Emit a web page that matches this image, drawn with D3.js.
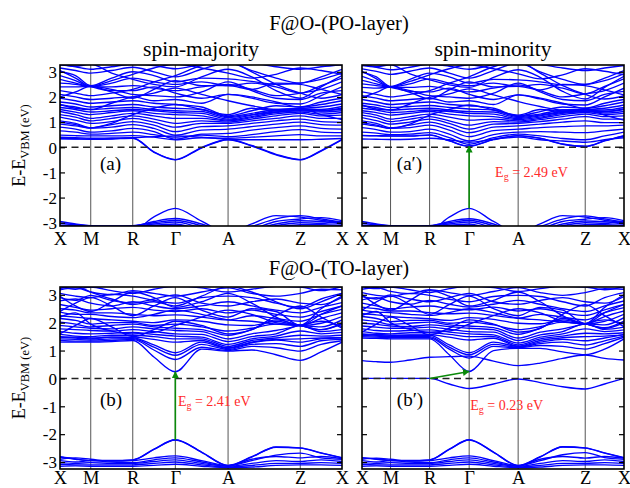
<!DOCTYPE html>
<html><head><meta charset="utf-8">
<script src="https://cdn.jsdelivr.net/npm/d3@7"></script>
<style>
body{margin:0;background:#fff}
svg{display:block}
text{font-family:"Liberation Serif","Times New Roman",serif}
</style>
</head><body>
<svg id="chart" width="630" height="488"></svg>
<script>
// k-path sample positions (fraction of path length)
const kPos = [0, 0.055, 0.109, 0.183, 0.258, 0.333, 0.409, 0.502, 0.596, 0.68, 0.766, 0.852, 0.926, 1];
const kLabels = ["X", "M", "R", "\u0393", "A", "Z", "X"];
const kLabelPos = [0, 0.109, 0.258, 0.409, 0.596, 0.852, 1];
const yTicks = [-3, -2, -1, 0, 1, 2, 3];

// (a) F@O PO-layer, spin-majority
const bandsA = [
 [3.28,3.2,3.1,3.2,3.3,3.25,3.12,3.3,3.4,3.35,3.2,3.1,3.2,3.28],
 [3.15,3.05,2.95,3.05,3.18,3.0,2.8,3.1,3.35,3.05,2.75,2.55,2.8,3.1],
 [3.0,2.85,2.45,2.75,3.0,2.85,2.6,2.75,2.72,2.62,2.5,2.55,2.7,2.95],
 [2.85,2.65,2.42,2.55,2.75,2.6,2.5,2.6,2.45,2.55,2.4,2.15,2.45,2.75],
 [2.7,2.55,2.42,2.4,2.45,2.35,2.25,2.4,2.5,2.3,2.05,2.15,2.3,2.6],
 [2.55,2.5,2.4,2.25,2.25,2.4,2.15,1.95,2.1,1.95,1.75,1.72,2.05,2.4],
 [2.4,2.4,2.42,2.3,2.1,2.05,2.0,2.2,2.6,2.25,1.95,1.9,2.15,2.25],
 [2.25,2.15,2.05,2.15,2.3,2.6,2.85,3.25,3.4,3.0,2.5,2.15,1.95,2.1],
 [2.1,2.0,1.9,1.95,2.0,1.85,1.9,1.75,2.1,2.0,1.8,1.6,1.8,1.95],
 [1.95,1.85,1.75,1.8,1.85,1.75,1.7,1.6,1.25,1.45,1.65,1.6,1.7,1.85],
 [1.8,1.72,1.6,1.65,1.7,1.6,1.55,1.5,1.22,1.35,1.5,1.55,1.6,1.72],
 [1.68,1.6,1.5,1.55,1.58,1.5,1.45,1.42,1.18,1.3,1.45,1.52,1.5,1.62],
 [1.58,1.5,1.4,1.45,1.5,1.45,1.38,1.35,1.12,1.28,1.4,1.48,1.45,1.52],
 [1.5,1.4,1.3,1.38,1.45,1.35,1.3,1.25,1.08,1.22,1.38,1.45,1.4,1.45],
 [1.42,1.3,1.15,1.25,1.35,1.25,1.15,1.15,1.05,1.18,1.33,1.4,1.32,1.38],
 [1.3,1.2,1.05,1.15,1.25,1.12,0.95,1.05,1.0,1.12,1.25,1.35,1.25,1.28],
 [1.2,1.08,0.95,1.02,1.15,1.0,0.8,0.95,0.95,1.05,1.15,1.25,1.15,1.15],
 [1.05,0.95,0.78,0.9,1.02,0.88,0.62,0.82,0.85,0.95,1.05,1.12,1.02,1.0],
 [0.92,0.85,0.76,0.8,0.9,0.75,0.48,0.68,0.72,0.82,0.92,1.0,0.9,0.88],
 [0.8,0.72,0.6,0.65,0.75,0.62,0.32,0.52,0.55,0.68,0.78,0.85,0.75,0.72],
 [0.65,0.6,0.52,0.55,0.6,0.5,0.4,0.48,0.42,0.5,0.62,0.7,0.6,0.58],
 [0.48,0.46,0.45,0.45,0.46,0.4,0.3,0.38,0.36,0.4,0.45,0.5,0.45,0.45],
 [0.4,0.38,0.36,0.37,0.38,0.42,0.45,0.4,0.32,0.3,0.3,0.3,0.32,0.35],
 [2.0,2.2,2.42,2.2,1.95,2.3,2.65,2.45,2.45,2.3,2.55,2.5,2.3,2.1],
 [1.0,0.9,0.77,0.95,1.3,1.55,1.7,1.5,1.3,1.55,1.45,1.52,1.3,1.1],
 [3.05,2.75,2.42,2.65,2.9,3.15,3.3,3.15,2.95,2.75,2.9,3.15,3.05,2.9],
 [1.7,1.55,1.5,1.75,2.0,2.15,2.35,2.1,1.85,1.65,1.5,1.52,1.45,1.55],
 [3.3,3.22,3.3,2.95,2.7,2.5,2.4,2.8,3.1,2.8,2.25,1.95,2.4,2.85],
 [0.34,0.33,0.32,0.33,0.36,-0.2,-0.5,-0.03,0.3,0.05,-0.3,-0.5,-0.15,0.3],
 [0.35,0.34,0.33,0.34,0.37,-0.18,-0.49,-0.01,0.31,0.07,-0.28,-0.49,-0.13,0.31],
 [-3.3,-3.3,-3.3,-3.3,-3.3,-2.77,-2.43,-2.94,-3.4,-3.05,-2.72,-2.78,-2.9,-3.0],
 [-3.3,-3.3,-3.3,-3.25,-3.15,-2.95,-2.83,-3.05,-3.4,-3.15,-2.85,-2.72,-2.85,-2.98],
 [-3.3,-3.3,-3.28,-3.2,-3.12,-3.0,-2.9,-3.12,-3.4,-3.25,-2.95,-2.85,-2.8,-2.92],
 [-2.95,-3.05,-3.12,-3.13,-3.12,-3.05,-2.97,-3.2,-3.4,-3.3,-3.05,-2.92,-2.95,-3.05],
 [-3.02,-3.08,-3.12,-3.14,-3.13,-3.1,-3.05,-3.3,-3.4,-3.35,-3.12,-3.0,-3.02,-2.95],
 [-3.1,-3.12,-3.14,-3.15,-3.15,-3.12,-3.1,-3.3,-3.4,-3.4,-3.2,-3.08,-3.08,-3.1]
];

// (a') F@O PO-layer, spin-minority
const bandsAp = [
 [3.25,3.18,3.08,3.18,3.3,3.22,3.1,3.28,3.4,3.3,3.15,3.05,3.15,3.25],
 [3.12,3.02,2.9,3.02,3.15,2.95,2.75,3.05,3.35,3.0,2.7,2.5,2.75,3.05],
 [2.98,2.8,2.42,2.7,2.95,2.8,2.55,2.7,2.68,2.6,2.48,2.5,2.65,2.92],
 [2.82,2.62,2.4,2.52,2.72,2.55,2.45,2.55,2.42,2.5,2.35,2.12,2.42,2.72],
 [2.66,2.52,2.4,2.38,2.42,2.3,2.2,2.35,2.48,2.25,2.0,2.12,2.25,2.55],
 [2.52,2.45,2.38,2.22,2.2,2.35,2.1,1.9,2.08,1.92,1.72,1.68,2.0,2.35],
 [2.38,2.35,2.4,2.25,2.05,2.0,1.95,2.15,2.55,2.2,1.9,1.85,2.1,2.22],
 [2.2,2.1,2.0,2.1,2.25,2.55,2.8,3.2,3.4,2.95,2.45,2.1,1.92,2.05],
 [2.05,1.95,1.85,1.9,1.95,1.8,1.85,1.7,2.08,1.95,1.75,1.55,1.75,1.9],
 [1.9,1.8,1.7,1.75,1.8,1.7,1.65,1.55,1.25,1.42,1.6,1.55,1.65,1.8],
 [1.75,1.68,1.58,1.62,1.66,1.58,1.52,1.48,1.22,1.32,1.48,1.5,1.55,1.68],
 [1.65,1.58,1.48,1.52,1.55,1.48,1.42,1.4,1.18,1.28,1.42,1.48,1.48,1.58],
 [1.55,1.48,1.38,1.42,1.48,1.42,1.35,1.32,1.14,1.25,1.38,1.44,1.42,1.5],
 [1.45,1.38,1.28,1.35,1.42,1.32,1.25,1.22,1.1,1.2,1.35,1.42,1.36,1.42],
 [1.38,1.28,1.12,1.22,1.32,1.2,1.08,1.12,1.05,1.15,1.3,1.38,1.3,1.35],
 [1.28,1.18,1.02,1.12,1.22,1.05,0.88,1.02,1.0,1.1,1.22,1.32,1.22,1.25],
 [1.18,1.06,0.92,1.0,1.12,0.95,0.72,0.92,0.95,1.02,1.12,1.22,1.12,1.12],
 [1.05,0.95,0.78,0.88,1.0,0.82,0.58,0.8,0.85,0.92,1.0,1.05,0.98,0.98],
 [0.92,0.84,0.75,0.78,0.88,0.68,0.42,0.66,0.72,0.78,0.82,0.85,0.85,0.88],
 [0.78,0.7,0.6,0.62,0.72,0.52,0.25,0.5,0.6,0.62,0.6,0.58,0.65,0.72],
 [0.6,0.56,0.5,0.52,0.58,0.38,0.12,0.38,0.52,0.45,0.35,0.3,0.45,0.6],
 [0.46,0.45,0.44,0.44,0.48,0.25,0.04,0.3,0.45,0.35,0.12,0.03,0.25,0.45],
 [0.47,0.46,0.45,0.45,0.49,0.26,0.05,0.31,0.46,0.36,0.13,0.04,0.26,0.46],
 [0.33,0.32,0.31,0.32,0.36,0.3,0.2,0.32,0.4,0.3,0.25,0.2,0.3,0.38],
 [1.98,2.18,2.4,2.18,1.92,2.28,2.6,2.4,2.42,2.28,2.5,2.45,2.28,2.08],
 [0.98,0.88,0.75,0.92,1.28,1.5,1.68,1.48,1.28,1.5,1.42,1.5,1.28,1.08],
 [3.02,2.72,2.4,2.62,2.88,3.12,3.28,3.12,2.92,2.72,2.88,3.12,3.02,2.88],
 [1.68,1.52,1.48,1.72,1.98,2.12,2.32,2.08,1.82,1.62,1.48,1.5,1.42,1.52],
 [3.3,3.2,3.28,2.92,2.68,2.48,2.38,2.78,3.08,2.78,2.22,1.92,2.38,2.82],
 [-3.3,-3.3,-3.3,-3.3,-3.3,-2.78,-2.43,-2.95,-3.4,-3.05,-2.72,-2.78,-2.9,-3.0],
 [-3.3,-3.3,-3.3,-3.25,-3.15,-2.95,-2.84,-3.05,-3.4,-3.15,-2.86,-2.73,-2.85,-2.97],
 [-3.3,-3.3,-3.28,-3.2,-3.12,-3.0,-2.9,-3.12,-3.4,-3.25,-2.95,-2.86,-2.8,-2.92],
 [-2.95,-3.05,-3.12,-3.13,-3.12,-3.05,-2.97,-3.2,-3.4,-3.3,-3.05,-2.93,-2.96,-3.05],
 [-3.02,-3.08,-3.12,-3.14,-3.13,-3.1,-3.05,-3.3,-3.4,-3.35,-3.12,-3.0,-3.02,-2.95],
 [-3.1,-3.12,-3.14,-3.15,-3.15,-3.12,-3.1,-3.3,-3.4,-3.4,-3.2,-3.08,-3.08,-3.1]
];

// (b) F@O TO-layer, spin-majority
const bandsB = [
 [3.3,3.2,3.28,3.15,3.05,3.2,3.3,3.25,3.1,3.2,3.3,3.28,3.15,3.3],
 [3.18,3.25,3.1,3.0,3.15,3.05,2.95,3.1,3.25,3.05,2.95,3.05,3.2,3.18],
 [3.05,2.95,2.9,3.02,2.95,2.8,2.7,2.9,2.95,2.9,2.7,2.55,2.85,3.05],
 [2.9,2.8,2.98,2.8,2.7,2.85,3.0,2.7,2.6,2.75,2.85,2.7,2.65,2.9],
 [2.78,2.85,2.7,2.6,2.75,2.6,2.5,2.6,2.75,2.6,2.45,2.35,2.55,2.72],
 [2.65,2.55,2.45,2.5,2.55,2.45,2.4,2.5,2.35,2.45,2.3,2.2,2.4,2.6],
 [2.5,2.45,2.35,2.35,2.3,2.25,2.28,2.2,2.1,2.25,2.15,2.05,2.3,2.48],
 [2.38,2.3,2.3,2.22,2.18,2.3,2.45,2.3,2.1,2.05,1.95,1.9,2.15,2.35],
 [2.25,2.2,2.15,2.1,2.05,2.0,2.1,2.05,1.92,1.9,2.05,1.9,1.98,2.22],
 [2.15,2.08,1.95,2.0,2.0,1.9,1.95,1.85,1.7,1.8,1.95,1.9,1.85,2.1],
 [2.02,1.95,1.85,1.9,1.95,1.85,1.8,1.75,1.55,1.75,2.1,1.9,1.75,1.98],
 [1.9,1.85,1.8,1.78,1.85,1.78,1.72,1.68,1.42,1.6,1.72,1.9,2.05,1.86],
 [1.78,1.75,1.72,1.7,1.75,1.68,1.6,1.58,1.32,1.5,1.6,1.9,1.68,1.75],
 [1.68,1.62,1.6,1.62,1.65,1.58,1.52,1.48,1.22,1.42,1.52,1.7,1.6,1.65],
 [1.58,1.52,1.5,1.55,1.55,1.5,1.42,1.42,1.15,1.36,1.45,1.55,1.52,1.55],
 [1.48,1.45,1.42,1.48,1.48,1.4,1.3,1.36,1.1,1.3,1.4,1.42,1.45,1.46],
 [2.4,2.7,2.9,2.6,2.25,2.6,2.9,2.45,2.2,2.5,2.4,1.9,2.3,2.6],
 [1.6,1.9,2.15,1.85,1.5,1.75,2.05,1.9,1.6,1.75,2.25,2.6,2.2,1.8],
 [2.95,2.6,2.4,2.75,3.1,2.9,2.55,2.75,3.05,2.7,2.2,1.9,2.5,2.95],
 [2.2,2.35,1.95,1.7,1.6,1.65,1.9,2.2,2.45,2.3,2.0,1.9,1.75,1.95],
 [3.22,3.3,3.1,2.85,2.65,2.75,2.6,2.95,3.3,3.1,2.75,2.5,2.75,3.05],
 [1.5,1.48,1.45,1.48,1.46,1.2,0.92,1.3,1.08,1.28,1.38,1.3,1.42,1.46],
 [1.42,1.4,1.38,1.42,1.43,1.12,0.83,1.22,1.04,1.22,1.25,1.15,1.35,1.4],
 [1.36,1.34,1.34,1.36,1.4,1.02,0.68,1.12,1.0,1.15,1.1,0.98,1.22,1.35],
 [1.3,1.3,1.3,1.32,1.36,0.77,0.24,1.05,0.98,1.02,0.85,0.65,0.95,1.3],
 [-2.82,-2.9,-2.95,-2.95,-2.93,-2.55,-2.21,-2.65,-3.13,-2.82,-2.47,-2.5,-2.68,-2.85],
 [-2.81,-2.89,-2.94,-2.94,-2.92,-2.54,-2.2,-2.64,-3.12,-2.81,-2.46,-2.49,-2.67,-2.84],
 [-2.9,-2.85,-2.9,-2.97,-2.95,-2.85,-2.78,-2.95,-3.13,-2.95,-2.75,-2.68,-2.85,-2.9],
 [-2.95,-3.0,-2.95,-3.0,-3.02,-2.92,-2.85,-3.0,-3.14,-2.9,-2.8,-2.85,-2.8,-2.88],
 [-3.02,-3.05,-3.02,-3.05,-3.05,-2.98,-2.92,-3.05,-3.15,-3.05,-2.95,-2.98,-2.92,-2.98],
 [-3.08,-3.1,-3.1,-3.1,-3.1,-3.05,-3.0,-3.1,-3.18,-3.12,-3.05,-3.05,-3.02,-3.05],
 [-3.15,-3.14,-3.15,-3.15,-3.15,-3.12,-3.08,-3.15,-3.2,-3.18,-3.12,-3.1,-3.1,-3.12]
];

// (b') F@O TO-layer, spin-minority
const bandsBp = [
 [3.3,3.22,3.28,3.18,3.08,3.22,3.3,3.26,3.12,3.22,3.3,3.28,3.18,3.3],
 [3.2,3.26,3.12,3.04,3.18,3.08,2.98,3.12,3.26,3.08,2.98,3.08,3.22,3.2],
 [3.08,2.98,2.94,3.05,2.98,2.84,2.75,2.94,2.98,2.94,2.75,2.6,2.9,3.08],
 [2.94,2.85,3.0,2.85,2.75,2.9,3.05,2.75,2.66,2.8,2.9,2.75,2.7,2.94],
 [2.82,2.9,2.75,2.66,2.8,2.66,2.56,2.66,2.8,2.66,2.5,2.4,2.6,2.78],
 [2.7,2.6,2.5,2.56,2.6,2.5,2.46,2.56,2.42,2.5,2.36,2.26,2.46,2.66],
 [2.56,2.5,2.42,2.42,2.36,2.32,2.34,2.26,2.16,2.3,2.2,2.1,2.36,2.54],
 [2.45,2.38,2.36,2.3,2.26,2.36,2.5,2.36,2.16,2.1,2.02,1.96,2.22,2.42],
 [2.32,2.28,2.22,2.18,2.14,2.08,2.18,2.12,1.98,1.96,2.1,1.96,2.05,2.3],
 [2.22,2.15,2.04,2.08,2.08,1.98,2.02,1.92,1.75,1.86,2.02,1.96,1.92,2.18],
 [2.1,2.04,1.94,1.98,2.02,1.92,1.88,1.82,1.58,1.8,2.15,1.96,1.82,2.06],
 [1.98,1.94,1.88,1.86,1.92,1.86,1.8,1.75,1.45,1.66,1.78,1.96,2.1,1.95],
 [1.88,1.84,1.8,1.8,1.84,1.76,1.68,1.66,1.36,1.56,1.68,1.96,1.76,1.84],
 [1.78,1.72,1.7,1.72,1.74,1.66,1.6,1.56,1.27,1.48,1.6,1.78,1.68,1.74],
 [1.68,1.62,1.6,1.64,1.64,1.58,1.5,1.5,1.2,1.42,1.52,1.62,1.6,1.64],
 [1.58,1.55,1.52,1.56,1.56,1.48,1.38,1.44,1.16,1.36,1.46,1.5,1.52,1.56],
 [2.45,2.75,2.95,2.65,2.3,2.65,2.95,2.5,2.25,2.55,2.45,1.96,2.36,2.65],
 [1.66,1.95,2.2,1.9,1.56,1.8,2.1,1.95,1.66,1.8,2.3,2.65,2.25,1.86],
 [3.0,2.65,2.45,2.8,3.15,2.95,2.6,2.8,3.1,2.75,2.25,1.96,2.55,3.0],
 [2.26,2.4,2.0,1.76,1.66,1.7,1.95,2.25,2.5,2.35,2.05,1.96,1.8,2.0],
 [1.6,1.58,1.55,1.55,1.55,1.2,0.92,1.3,1.15,1.3,1.4,1.35,1.45,1.58],
 [1.55,1.52,1.5,1.5,1.5,1.12,0.85,1.22,1.12,1.25,1.3,1.2,1.35,1.52],
 [1.5,1.48,1.46,1.46,1.46,1.05,0.73,1.15,1.1,1.18,1.15,1.05,1.25,1.48],
 [1.45,1.44,1.42,1.42,1.42,0.85,0.25,1.0,1.08,1.08,0.95,0.85,1.05,1.42],
 [0.64,0.6,0.58,0.66,0.76,0.78,0.8,0.62,0.46,0.55,0.72,0.84,0.72,0.66],
 [0.0,0.0,0.0,0.0,0.0,-0.2,-0.36,-0.2,-0.02,-0.15,-0.3,-0.38,-0.2,0.0],
 [-2.85,-2.9,-2.95,-2.95,-2.93,-2.55,-2.21,-2.65,-3.13,-2.82,-2.46,-2.5,-2.68,-2.85],
 [-2.84,-2.89,-2.94,-2.94,-2.92,-2.54,-2.2,-2.64,-3.12,-2.81,-2.45,-2.49,-2.67,-2.84],
 [-2.9,-2.86,-2.9,-2.97,-2.95,-2.85,-2.78,-2.95,-3.13,-2.95,-2.74,-2.66,-2.84,-2.9],
 [-2.95,-3.0,-2.95,-3.0,-3.02,-2.92,-2.85,-3.0,-3.14,-2.9,-2.8,-2.86,-2.8,-2.86],
 [-3.02,-3.05,-3.02,-3.05,-3.05,-2.98,-2.92,-3.05,-3.15,-3.05,-2.95,-2.98,-2.92,-2.98],
 [-3.08,-3.1,-3.1,-3.1,-3.1,-3.05,-3.0,-3.1,-3.18,-3.12,-3.05,-3.05,-3.02,-3.05],
 [-3.15,-3.14,-3.15,-3.15,-3.15,-3.12,-3.08,-3.15,-3.2,-3.18,-3.12,-3.1,-3.1,-3.12]
];

// gap annotations: [kFrom, eFrom, kTo, eTo]
const gapA2 = [0.409, -2.43, 0.409, 0.04];
const gapB = [0.409, -2.21, 0.409, 0.24];
const gapB2 = [0.258, 0.0, 0.409, 0.25];
const gapTextA2 = "2.49", gapTextB = "2.41", gapTextB2 = "0.23";

const svg = d3.select("#chart");
const defs = svg.append("defs");
defs.append("marker").attr("id","arr").attr("viewBox","0 0 10 10")
  .attr("refX",9).attr("refY",5).attr("markerWidth",7).attr("markerHeight",7)
  .attr("markerUnits","userSpaceOnUse").attr("orient","auto")
  .append("path").attr("d","M0,0 L10,5 L0,10 z").attr("fill","#0a8a0a");

const panels = [
  {id:"a", bands:bandsA, x0:60, x1:342, y0:65, y1:226, dom:[-3.13,3.27], left:true, label:"(a)", lab:[0.142,-0.9], xl:18.5},
  {id:"ap", bands:bandsAp, x0:362, x1:624, y0:65, y1:226, dom:[-3.13,3.27], left:false, label:"(a\u2032)", lab:[0.133,-0.9], xl:18.5,
    gap:gapA2, gapText:gapTextA2, gapPos:[0.508,-1.2]},
  {id:"b", bands:bandsB, x0:60, x1:342, y0:287, y1:469, dom:[-3.25,3.28], left:true, label:"(b)", lab:[0.142,-0.98], xl:15,
    gap:gapB, gapText:gapTextB, gapPos:[0.418,-0.98]},
  {id:"bp", bands:bandsBp, x0:362, x1:624, y0:287, y1:469, dom:[-3.25,3.28], left:false, label:"(b\u2032)", lab:[0.133,-1.0], xl:15,
    gap:gapB2, gapText:gapTextB2, gapPos:[0.413,-1.12]}
];

panels.forEach(p => {
  const x = d3.scaleLinear().domain([0,1]).range([p.x0,p.x1]);
  const y = d3.scaleLinear().domain(p.dom).range([p.y1,p.y0]);
  const g = svg.append("g");
  defs.append("clipPath").attr("id","clip-"+p.id).append("rect")
    .attr("x",p.x0).attr("y",p.y0).attr("width",p.x1-p.x0).attr("height",p.y1-p.y0);

  g.selectAll("line.sym").data(kLabelPos.slice(1,-1)).join("line")
    .attr("x1",d=>x(d)).attr("x2",d=>x(d)).attr("y1",p.y0).attr("y2",p.y1)
    .attr("stroke","#555").attr("stroke-width",1);

  const line = d3.line().x((d,i)=>x(kPos[i])).y(d=>y(d)).curve(d3.curveMonotoneX);
  g.append("g").attr("clip-path","url(#clip-"+p.id+")")
    .selectAll("path").data(p.bands).join("path")
    .attr("d",line).attr("fill","none").attr("stroke","#0000ff").attr("stroke-width",1.35);

  g.append("line").attr("x1",p.x0).attr("x2",p.x1).attr("y1",y(0)).attr("y2",y(0))
    .attr("stroke","#222").attr("stroke-width",1.5).attr("stroke-dasharray","7,4.5");

  const axL = d3.axisLeft(y).tickValues(yTicks).tickSize(-5).tickPadding(3)
    .tickFormat(p.left ? (d=>String(d)) : (()=>""));
  const gl = g.append("g").attr("transform",`translate(${p.x0},0)`).call(axL);
  const axR = d3.axisRight(y).tickValues(yTicks).tickSize(-5).tickFormat(()=>"");
  const gr = g.append("g").attr("transform",`translate(${p.x1},0)`).call(axR);
  [gl,gr].forEach(a=>{ a.select(".domain").remove(); a.selectAll("line").attr("stroke","#000").attr("stroke-width",1.2); });
  gl.selectAll("text").attr("font-family","Liberation Serif, serif").attr("font-size",17).attr("fill","#000").attr("dy","0.34em");

  const axB = d3.axisBottom(x).tickValues(kLabelPos).tickSize(0).tickPadding(0)
    .tickFormat((d,i)=>kLabels[i]);
  const gb = g.append("g").attr("transform",`translate(0,${p.y1})`).call(axB);
  gb.select(".domain").remove();
  gb.selectAll("text").attr("font-family","Liberation Serif, serif").attr("font-size",18.5)
    .attr("fill","#000").attr("dy",null).attr("y",p.xl);

  g.append("rect").attr("x",p.x0).attr("y",p.y0).attr("width",p.x1-p.x0).attr("height",p.y1-p.y0)
    .attr("fill","none").attr("stroke","#000").attr("stroke-width",1.6);

  g.append("text").attr("x",x(p.lab[0])).attr("y",y(p.lab[1])).attr("font-size",19).text(p.label);

  if (p.gap) {
    g.append("line").attr("x1",x(p.gap[0])).attr("y1",y(p.gap[1]))
      .attr("x2",x(p.gap[2])).attr("y2",y(p.gap[3]))
      .attr("stroke","#0a8a0a").attr("stroke-width",1.6).attr("marker-end","url(#arr)");
    const t = g.append("text").attr("x",x(p.gapPos[0])).attr("y",y(p.gapPos[1]))
      .attr("font-size",14).attr("fill","#ff2a2a");
    t.append("tspan").text("E");
    t.append("tspan").attr("font-size",10).attr("dy",3).text("g");
    t.append("tspan").attr("dy",-3).text(" = " + p.gapText + " eV");
  }

  if (p.left) {
    const yl = svg.append("text").attr("transform",`translate(25,${(p.y0+p.y1)/2}) rotate(-90)`)
      .attr("text-anchor","middle").attr("font-size",18);
    yl.append("tspan").text("E-E");
    yl.append("tspan").attr("font-size",12.5).attr("dy",4).text("VBM (eV)");
  }
});

svg.append("text").attr("x",339).attr("y",30).attr("text-anchor","middle").attr("font-size",20.5).text("F@O-(PO-layer)");
svg.append("text").attr("x",201).attr("y",56).attr("text-anchor","middle").attr("font-size",21.5).text("spin-majority");
svg.append("text").attr("x",493).attr("y",56).attr("text-anchor","middle").attr("font-size",21.5).text("spin-minority");
svg.append("text").attr("x",339).attr("y",275).attr("text-anchor","middle").attr("font-size",20.5).text("F@O-(TO-layer)");
</script>
</body></html>
